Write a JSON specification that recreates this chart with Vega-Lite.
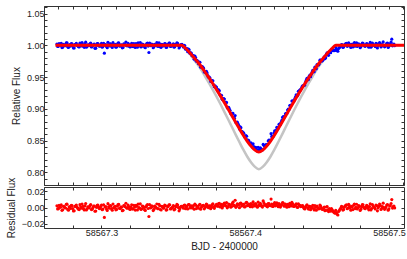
{
"$schema": "https://vega.github.io/schema/vega-lite/v6.json",
"padding": {"left": 5, "top": 5, "right": 3, "bottom": 0},
"spacing": 2,
"bounds": "flush",
"config": {
 "view": {"stroke": "#333", "strokeWidth": 1},
 "axis": {"labelFont": "Liberation Sans", "titleFont": "Liberation Sans", "labelFontSize": 9, "titleFontSize": 10, "titleFontWeight": "normal", "labelColor": "#222", "titleColor": "#222", "grid": false, "domain": false, "tickColor": "#333", "tickSize": -3, "tickWidth": 1, "minExtent": 0, "maxExtent": 200, "offset": 0}
},
"datasets": {
 "obs": [
{"t":58567.269,"f":1.0021,"r":0.0021},{"t":58567.270,"f":0.9985,"r":-0.0015},{"t":58567.271,"f":1.0004,"r":0.0004},{"t":58567.272,"f":1.0032,"r":0.0032},{"t":58567.273,"f":0.9972,"r":-0.0028},{"t":58567.274,"f":1.0010,"r":0.0010},{"t":58567.275,"f":0.9994,"r":-0.0006},{"t":58567.276,"f":1.0041,"r":0.0041},{"t":58567.277,"f":0.9967,"r":-0.0033},{"t":58567.278,"f":1.0009,"r":0.0009},
{"t":58567.279,"f":1.0026,"r":0.0026},{"t":58567.280,"f":0.9988,"r":-0.0012},{"t":58567.281,"f":0.9960,"r":-0.0040},{"t":58567.282,"f":1.0018,"r":0.0018},{"t":58567.283,"f":1.0002,"r":0.0002},{"t":58567.284,"f":0.9978,"r":-0.0022},{"t":58567.285,"f":1.0035,"r":0.0035},{"t":58567.286,"f":0.9991,"r":-0.0009},{"t":58567.287,"f":1.0014,"r":0.0014},{"t":58567.288,"f":0.9969,"r":-0.0031},
{"t":58567.289,"f":1.0050,"r":0.0050},{"t":58567.290,"f":0.9983,"r":-0.0017},{"t":58567.291,"f":1.0006,"r":0.0006},{"t":58567.292,"f":1.0023,"r":0.0023},{"t":58567.293,"f":0.9974,"r":-0.0026},{"t":58567.294,"f":0.9997,"r":-0.0003},{"t":58567.295,"f":1.0019,"r":0.0019},{"t":58567.296,"f":0.9956,"r":-0.0044},{"t":58567.297,"f":1.0028,"r":0.0028},{"t":58567.298,"f":1.0001,"r":0.0001},
{"t":58567.299,"f":0.9990,"r":-0.0010},{"t":58567.300,"f":1.0030,"r":0.0030},{"t":58567.301,"f":0.9980,"r":-0.0020},{"t":58567.302,"f":0.9877,"r":-0.0123},{"t":58567.303,"f":1.0012,"r":0.0012},{"t":58567.304,"f":0.9964,"r":-0.0036},{"t":58567.305,"f":1.0007,"r":0.0007},{"t":58567.306,"f":1.0025,"r":0.0025},{"t":58567.307,"f":0.9986,"r":-0.0014},{"t":58567.308,"f":1.0042,"r":0.0042},
{"t":58567.309,"f":0.9995,"r":-0.0005},{"t":58567.310,"f":0.9971,"r":-0.0029},{"t":58567.311,"f":1.0016,"r":0.0016},{"t":58567.312,"f":1.0038,"r":0.0038},{"t":58567.313,"f":0.9989,"r":-0.0011},{"t":58567.314,"f":1.0003,"r":0.0003},{"t":58567.315,"f":0.9966,"r":-0.0034},{"t":58567.316,"f":1.0020,"r":0.0020},{"t":58567.317,"f":1.0053,"r":0.0053},{"t":58567.318,"f":0.9992,"r":-0.0008},
{"t":58567.319,"f":1.0011,"r":0.0011},{"t":58567.320,"f":0.9976,"r":-0.0024},{"t":58567.321,"f":1.0033,"r":0.0033},{"t":58567.322,"f":0.9981,"r":-0.0019},{"t":58567.323,"f":1.0005,"r":0.0005},{"t":58567.324,"f":1.0027,"r":0.0027},{"t":58567.325,"f":0.9970,"r":-0.0030},{"t":58567.326,"f":0.9998,"r":-0.0002},{"t":58567.327,"f":1.0045,"r":0.0045},{"t":58567.328,"f":0.9984,"r":-0.0016},
{"t":58567.329,"f":1.0013,"r":0.0013},{"t":58567.330,"f":0.9973,"r":-0.0027},{"t":58567.331,"f":1.0008,"r":0.0008},{"t":58567.332,"f":1.0036,"r":0.0036},{"t":58567.333,"f":0.9888,"r":-0.0112},{"t":58567.334,"f":0.9996,"r":-0.0004},{"t":58567.335,"f":1.0022,"r":0.0022},{"t":58567.336,"f":0.9962,"r":-0.0038},{"t":58567.337,"f":1.0017,"r":0.0017},{"t":58567.338,"f":1.0000,"r":0.0000},
{"t":58567.339,"f":0.9987,"r":-0.0013},{"t":58567.340,"f":1.0040,"r":0.0040},{"t":58567.341,"f":0.9975,"r":-0.0025},{"t":58567.342,"f":1.0015,"r":0.0015},{"t":58567.343,"f":0.9993,"r":-0.0007},{"t":58567.344,"f":1.0029,"r":0.0029},{"t":58567.345,"f":0.9968,"r":-0.0032},{"t":58567.346,"f":1.0009,"r":0.0009},{"t":58567.347,"f":1.0034,"r":0.0034},{"t":58567.348,"f":0.9982,"r":-0.0018},
{"t":58567.349,"f":0.9999,"r":-0.0001},{"t":58567.350,"f":1.0024,"r":0.0024},{"t":58567.351,"f":0.9979,"r":-0.0021},{"t":58567.352,"f":1.0010,"r":0.0010},{"t":58567.353,"f":1.0031,"r":0.0031},{"t":58567.354,"f":0.9959,"r":-0.0041},{"t":58567.355,"f":1.0006,"r":0.0006},
{"t":58567.356,"f":1.0015,"r":0.0015},{"t":58567.357,"f":0.9973,"r":-0.0008},{"t":58567.358,"f":0.9991,"r":0.0029},{"t":58567.359,"f":0.9946,"r":0.0004},{"t":58567.360,"f":0.9899,"r":-0.0019},{"t":58567.361,"f":0.9931,"r":0.0037},{"t":58567.362,"f":0.9881,"r":0.0012},{"t":58567.363,"f":0.9837,"r":-0.0005},{"t":58567.364,"f":0.9840,"r":0.0024},{"t":58567.365,"f":0.9831,"r":0.0041},
{"t":58567.366,"f":0.9750,"r":-0.0013},{"t":58567.367,"f":0.9745,"r":0.0009},{"t":58567.368,"f":0.9737,"r":0.0030},{"t":58567.369,"f":0.9656,"r":-0.0022},{"t":58567.370,"f":0.9665,"r":0.0018},{"t":58567.371,"f":0.9640,"r":0.0026},{"t":58567.372,"f":0.9579,"r":-0.0003},{"t":58567.373,"f":0.9592,"r":0.0044},{"t":58567.374,"f":0.9522,"r":0.0007},{"t":58567.375,"f":0.9500,"r":0.0019},
{"t":58567.376,"f":0.9431,"r":-0.0016},{"t":58567.377,"f":0.9445,"r":0.0033},{"t":58567.378,"f":0.9379,"r":0.0002},{"t":58567.379,"f":0.9362,"r":0.0021},{"t":58567.380,"f":0.9343,"r":0.0038},{"t":58567.381,"f":0.9283,"r":0.0014},{"t":58567.382,"f":0.9283,"r":0.0052},{"t":58567.383,"f":0.9214,"r":0.0020},{"t":58567.384,"f":0.9150,"r":-0.0006},{"t":58567.385,"f":0.9161,"r":0.0043},
{"t":58567.386,"f":0.9108,"r":0.0029},{"t":58567.387,"f":0.9101,"r":0.0061},{"t":58567.388,"f":0.9012,"r":0.0011},{"t":58567.389,"f":0.8996,"r":0.0035},{"t":58567.390,"f":0.8926,"r":0.0004},{"t":58567.391,"f":0.8930,"r":0.0048},{"t":58567.392,"f":0.8866,"r":0.0023},{"t":58567.393,"f":0.8893,"r":0.0090},{"t":58567.394,"f":0.8781,"r":0.0017},{"t":58567.395,"f":0.8764,"r":0.0039},
{"t":58567.396,"f":0.8684,"r":-0.0002},{"t":58567.397,"f":0.8703,"r":0.0055},{"t":58567.398,"f":0.8636,"r":0.0026},{"t":58567.399,"f":0.8614,"r":0.0040},{"t":58567.400,"f":0.8549,"r":0.0010},{"t":58567.401,"f":0.8568,"r":0.0064},{"t":58567.402,"f":0.8504,"r":0.0031},{"t":58567.403,"f":0.8466,"r":0.0022},{"t":58567.404,"f":0.8465,"r":0.0050},{"t":58567.405,"f":0.8400,"r":0.0008},
{"t":58567.406,"f":0.8406,"r":0.0037},{"t":58567.407,"f":0.8394,"r":0.0046},{"t":58567.408,"f":0.8356,"r":0.0019},{"t":58567.409,"f":0.8394,"r":0.0068},{"t":58567.410,"f":0.8350,"r":0.0024},{"t":58567.411,"f":0.8370,"r":0.0033},{"t":58567.412,"f":0.8353,"r":0.0005},{"t":58567.413,"f":0.8426,"r":0.0057},{"t":58567.414,"f":0.8422,"r":0.0030},{"t":58567.415,"f":0.8431,"r":0.0016},
{"t":58567.416,"f":0.8493,"r":0.0049},{"t":58567.417,"f":0.8501,"r":0.0028},{"t":58567.418,"f":0.8609,"r":0.0105},{"t":58567.419,"f":0.8551,"r":0.0012},{"t":58567.420,"f":0.8618,"r":0.0044},{"t":58567.421,"f":0.8631,"r":0.0021},{"t":58567.422,"f":0.8707,"r":0.0059},{"t":58567.423,"f":0.8695,"r":0.0009},{"t":58567.424,"f":0.8761,"r":0.0036},{"t":58567.425,"f":0.8789,"r":0.0025},
{"t":58567.426,"f":0.8865,"r":0.0062},{"t":58567.427,"f":0.8861,"r":0.0018},{"t":58567.428,"f":0.8923,"r":0.0041},{"t":58567.429,"f":0.8925,"r":0.0003},{"t":58567.430,"f":0.8995,"r":0.0034},{"t":58567.431,"f":0.9052,"r":0.0051},{"t":58567.432,"f":0.9060,"r":0.0020},{"t":58567.433,"f":0.9126,"r":0.0047},{"t":58567.434,"f":0.9131,"r":0.0013},{"t":58567.435,"f":0.9188,"r":0.0032},
{"t":58567.436,"f":0.9200,"r":0.0006},{"t":58567.437,"f":0.9276,"r":0.0045},{"t":58567.438,"f":0.9296,"r":0.0027},{"t":58567.439,"f":0.9320,"r":0.0015},{"t":58567.440,"f":0.9364,"r":0.0023},{"t":58567.441,"f":0.9366,"r":-0.0011},{"t":58567.442,"f":0.9420,"r":0.0008},{"t":58567.443,"f":0.9481,"r":0.0034},{"t":58567.444,"f":0.9461,"r":-0.0020},{"t":58567.445,"f":0.9530,"r":0.0015},
{"t":58567.446,"f":0.9544,"r":-0.0004},{"t":58567.447,"f":0.9608,"r":0.0026},{"t":58567.448,"f":0.9584,"r":-0.0030},{"t":58567.449,"f":0.9649,"r":0.0002},{"t":58567.450,"f":0.9697,"r":0.0019},{"t":58567.451,"f":0.9690,"r":-0.0017},{"t":58567.452,"f":0.9767,"r":0.0031},{"t":58567.453,"f":0.9754,"r":-0.0009},{"t":58567.454,"f":0.9766,"r":-0.0024},{"t":58567.455,"f":0.9821,"r":0.0005},
{"t":58567.456,"f":0.9806,"r":-0.0036},{"t":58567.457,"f":0.9881,"r":0.0012},{"t":58567.458,"f":0.9843,"r":-0.0051},{"t":58567.459,"f":0.9890,"r":-0.0028},{"t":58567.460,"f":0.9930,"r":-0.0012},{"t":58567.461,"f":0.9920,"r":-0.0042},{"t":58567.462,"f":0.9918,"r":-0.0063},{"t":58567.463,"f":0.9965,"r":-0.0035},
{"t":58567.464,"f":0.9916,"r":-0.0084},{"t":58567.465,"f":0.9950,"r":-0.0050},{"t":58567.466,"f":0.9979,"r":-0.0021},{"t":58567.467,"f":1.0013,"r":0.0013},{"t":58567.468,"f":0.9968,"r":-0.0032},{"t":58567.469,"f":1.0006,"r":0.0006},{"t":58567.470,"f":1.0028,"r":0.0028},{"t":58567.471,"f":0.9985,"r":-0.0015},{"t":58567.472,"f":1.0039,"r":0.0039},{"t":58567.473,"f":0.9993,"r":-0.0007},
{"t":58567.474,"f":1.0016,"r":0.0016},{"t":58567.475,"f":0.9974,"r":-0.0026},{"t":58567.476,"f":1.0042,"r":0.0042},{"t":58567.477,"f":1.0001,"r":0.0001},{"t":58567.478,"f":0.9982,"r":-0.0018},{"t":58567.479,"f":1.0025,"r":0.0025},{"t":58567.480,"f":0.9963,"r":-0.0037},{"t":58567.481,"f":1.0010,"r":0.0010},{"t":58567.482,"f":1.0033,"r":0.0033},{"t":58567.483,"f":0.9991,"r":-0.0009},
{"t":58567.484,"f":1.0004,"r":0.0004},{"t":58567.485,"f":1.0020,"r":0.0020},{"t":58567.486,"f":0.9971,"r":-0.0029},{"t":58567.487,"f":1.0046,"r":0.0046},{"t":58567.488,"f":0.9988,"r":-0.0012},{"t":58567.489,"f":1.0018,"r":0.0018},{"t":58567.490,"f":0.9997,"r":-0.0003},{"t":58567.491,"f":1.0030,"r":0.0030},{"t":58567.492,"f":0.9959,"r":-0.0041},{"t":58567.493,"f":1.0014,"r":0.0014},
{"t":58567.494,"f":1.0027,"r":0.0027},{"t":58567.495,"f":0.9990,"r":-0.0010},{"t":58567.496,"f":1.0054,"r":0.0054},{"t":58567.497,"f":0.9977,"r":-0.0023},{"t":58567.498,"f":1.0008,"r":0.0008},{"t":58567.499,"f":1.0036,"r":0.0036},{"t":58567.500,"f":0.9984,"r":-0.0016},{"t":58567.501,"f":1.0022,"r":0.0022},{"t":58567.502,"f":1.0098,"r":0.0098},{"t":58567.503,"f":1.0011,"r":0.0011},
{"t":58567.504,"f":0.9995,"r":-0.0005},
{"t":58567.2695,"f":0.9982,"r":-0.0018},{"t":58567.2705,"f":1.0027,"r":0.0027},{"t":58567.2715,"f":1.0003,"r":0.0003},{"t":58567.2725,"f":0.9965,"r":-0.0035},{"t":58567.2735,"f":1.0016,"r":0.0016},{"t":58567.2745,"f":0.9998,"r":-0.0002},{"t":58567.2755,"f":1.0039,"r":0.0039},{"t":58567.2765,"f":0.9977,"r":-0.0023},{"t":58567.2775,"f":1.0008,"r":0.0008},{"t":58567.2785,"f":0.9989,"r":-0.0011},
{"t":58567.2795,"f":1.0024,"r":0.0024},{"t":58567.2805,"f":0.9958,"r":-0.0042},{"t":58567.2815,"f":1.0013,"r":0.0013},{"t":58567.2825,"f":1.0031,"r":0.0031},{"t":58567.2835,"f":0.9993,"r":-0.0007},{"t":58567.2845,"f":0.9974,"r":-0.0026},{"t":58567.2855,"f":1.0005,"r":0.0005},{"t":58567.2865,"f":1.0044,"r":0.0044},{"t":58567.2875,"f":0.9985,"r":-0.0015},{"t":58567.2885,"f":1.0020,"r":0.0020},
{"t":58567.2895,"f":0.9970,"r":-0.0030},{"t":58567.2905,"f":1.0009,"r":0.0009},{"t":58567.2915,"f":0.9996,"r":-0.0004},{"t":58567.2925,"f":1.0036,"r":0.0036},{"t":58567.2935,"f":0.9979,"r":-0.0021},{"t":58567.2945,"f":1.0017,"r":0.0017},{"t":58567.2955,"f":0.9953,"r":-0.0047},{"t":58567.2965,"f":1.0002,"r":0.0002},{"t":58567.2975,"f":1.0029,"r":0.0029},{"t":58567.2985,"f":0.9987,"r":-0.0013},
{"t":58567.2995,"f":1.0011,"r":0.0011},{"t":58567.3005,"f":0.9972,"r":-0.0028},{"t":58567.3015,"f":1.0033,"r":0.0033},{"t":58567.3025,"f":1.0006,"r":0.0006},{"t":58567.3035,"f":0.9981,"r":-0.0019},{"t":58567.3045,"f":1.0048,"r":0.0048},{"t":58567.3055,"f":0.9991,"r":-0.0009},{"t":58567.3065,"f":1.0022,"r":0.0022},{"t":58567.3075,"f":0.9966,"r":-0.0034},{"t":58567.3085,"f":1.0000,"r":0.0000},
{"t":58567.3095,"f":1.0015,"r":0.0015},{"t":58567.3105,"f":0.9976,"r":-0.0024},{"t":58567.3115,"f":1.0037,"r":0.0037},{"t":58567.3125,"f":0.9990,"r":-0.0010},{"t":58567.3135,"f":1.0007,"r":0.0007},{"t":58567.3145,"f":0.9961,"r":-0.0039},{"t":58567.3155,"f":1.0025,"r":0.0025},{"t":58567.3165,"f":1.0010,"r":0.0010},{"t":58567.3175,"f":0.9994,"r":-0.0006},{"t":58567.3185,"f":1.0030,"r":0.0030},
{"t":58567.3195,"f":0.9980,"r":-0.0020},{"t":58567.3205,"f":1.0004,"r":0.0004},{"t":58567.3215,"f":0.9983,"r":-0.0017},{"t":58567.3225,"f":1.0028,"r":0.0028},{"t":58567.3235,"f":0.9968,"r":-0.0032},{"t":58567.3245,"f":1.0014,"r":0.0014},{"t":58567.3255,"f":1.0041,"r":0.0041},{"t":58567.3265,"f":0.9992,"r":-0.0008},{"t":58567.3275,"f":0.9975,"r":-0.0025},{"t":58567.3285,"f":1.0019,"r":0.0019},
{"t":58567.3295,"f":1.0001,"r":0.0001},{"t":58567.3305,"f":0.9964,"r":-0.0036},{"t":58567.3315,"f":1.0026,"r":0.0026},{"t":58567.3325,"f":0.9988,"r":-0.0012},{"t":58567.3335,"f":1.0035,"r":0.0035},{"t":58567.3345,"f":0.9997,"r":-0.0003},{"t":58567.3355,"f":1.0012,"r":0.0012},{"t":58567.3365,"f":0.9978,"r":-0.0022},{"t":58567.3375,"f":1.0006,"r":0.0006},{"t":58567.3385,"f":1.0043,"r":0.0043},
{"t":58567.3395,"f":0.9984,"r":-0.0016},{"t":58567.3405,"f":1.0021,"r":0.0021},{"t":58567.3415,"f":0.9969,"r":-0.0031},{"t":58567.3425,"f":1.0008,"r":0.0008},{"t":58567.3435,"f":0.9995,"r":-0.0005},{"t":58567.3445,"f":1.0023,"r":0.0023},{"t":58567.3455,"f":0.9973,"r":-0.0027},{"t":58567.3465,"f":1.0018,"r":0.0018},{"t":58567.3475,"f":1.0034,"r":0.0034},{"t":58567.3485,"f":0.9986,"r":-0.0014},
{"t":58567.3495,"f":1.0002,"r":0.0002},{"t":58567.3505,"f":0.9971,"r":-0.0029},{"t":58567.3515,"f":1.0016,"r":0.0016},{"t":58567.3525,"f":1.0038,"r":0.0038},{"t":58567.3535,"f":0.9999,"r":-0.0001},{"t":58567.3545,"f":0.9980,"r":-0.0020},{"t":58567.3555,"f":1.0013,"r":0.0013},
{"t":58567.3565,"f":0.9997,"r":0.0006},{"t":58567.3575,"f":1.0000,"r":0.0028},{"t":58567.3585,"f":0.9939,"r":-0.0014},{"t":58567.3595,"f":0.9949,"r":0.0019},{"t":58567.3605,"f":0.9942,"r":0.0036},{"t":58567.3615,"f":0.9877,"r":-0.0005},{"t":58567.3625,"f":0.9877,"r":0.0022},{"t":58567.3635,"f":0.9838,"r":0.0009},{"t":58567.3645,"f":0.9782,"r":-0.0021},{"t":58567.3655,"f":0.9807,"r":0.0031},
{"t":58567.3665,"f":0.9764,"r":0.0014},{"t":58567.3675,"f":0.9712,"r":-0.0009},{"t":58567.3685,"f":0.9733,"r":0.0040},{"t":58567.3695,"f":0.9666,"r":0.0003},{"t":58567.3705,"f":0.9656,"r":0.0025},{"t":58567.3715,"f":0.9581,"r":-0.0017},{"t":58567.3725,"f":0.9576,"r":0.0011},{"t":58567.3735,"f":0.9566,"r":0.0034},{"t":58567.3745,"f":0.9497,"r":-0.0002},{"t":58567.3755,"f":0.9484,"r":0.0020},
{"t":58567.3765,"f":0.9437,"r":0.0007},{"t":58567.3775,"f":0.9441,"r":0.0046},{"t":58567.3785,"f":0.9349,"r":-0.0010},{"t":58567.3795,"f":0.9341,"r":0.0018},
{"t":58567.3805,"f":0.9313,"r":0.0026},{"t":58567.3815,"f":0.9299,"r":0.0049},{"t":58567.3825,"f":0.9220,"r":0.0007},{"t":58567.3835,"f":0.9213,"r":0.0038},{"t":58567.3845,"f":0.9152,"r":0.0015},{"t":58567.3855,"f":0.9154,"r":0.0056},{"t":58567.3865,"f":0.9080,"r":0.0021},{"t":58567.3875,"f":0.9016,"r":-0.0004},{"t":58567.3885,"f":0.9023,"r":0.0042},{"t":58567.3895,"f":0.8972,"r":0.0030},
{"t":58567.3905,"f":0.8914,"r":0.0012},{"t":58567.3915,"f":0.8928,"r":0.0066},{"t":58567.3925,"f":0.8850,"r":0.0027},{"t":58567.3935,"f":0.8785,"r":0.0002},{"t":58567.3945,"f":0.8790,"r":0.0045},{"t":58567.3955,"f":0.8739,"r":0.0033},{"t":58567.3965,"f":0.8718,"r":0.0051},{"t":58567.3975,"f":0.8647,"r":0.0018},{"t":58567.3985,"f":0.8631,"r":0.0039},{"t":58567.3995,"f":0.8562,"r":0.0006},
{"t":58567.4005,"f":0.8580,"r":0.0058},{"t":58567.4015,"f":0.8511,"r":0.0024},{"t":58567.4025,"f":0.8499,"r":0.0041},{"t":58567.4035,"f":0.8440,"r":0.0010},{"t":58567.4045,"f":0.8439,"r":0.0036},{"t":58567.4055,"f":0.8449,"r":0.0069},{"t":58567.4065,"f":0.8378,"r":0.0020},{"t":58567.4075,"f":0.8390,"r":0.0047},{"t":58567.4085,"f":0.8335,"r":0.0004},{"t":58567.4095,"f":0.8352,"r":0.0032},
{"t":58567.4105,"f":0.8384,"r":0.0053},{"t":58567.4115,"f":0.8360,"r":0.0017},{"t":58567.4125,"f":0.8440,"r":0.0082},{"t":58567.4135,"f":0.8409,"r":0.0029},{"t":58567.4145,"f":0.8438,"r":0.0035},{"t":58567.4155,"f":0.8438,"r":0.0008},{"t":58567.4165,"f":0.8508,"r":0.0050},{"t":58567.4175,"f":0.8509,"r":0.0022},{"t":58567.4185,"f":0.8565,"r":0.0043},{"t":58567.4195,"f":0.8570,"r":0.0014},
{"t":58567.4205,"f":0.8652,"r":0.0060},{"t":58567.4215,"f":0.8660,"r":0.0031},{"t":58567.4225,"f":0.8692,"r":0.0025},{"t":58567.4235,"f":0.8754,"r":0.0048},{"t":58567.4245,"f":0.8750,"r":0.0005},{"t":58567.4255,"f":0.8820,"r":0.0037},{"t":58567.4265,"f":0.8877,"r":0.0054},{"t":58567.4275,"f":0.8881,"r":0.0019},{"t":58567.4285,"f":0.8930,"r":0.0028},{"t":58567.4295,"f":0.8982,"r":0.0040},
{"t":58567.4305,"f":0.8990,"r":0.0009},{"t":58567.4315,"f":0.9054,"r":0.0034},{"t":58567.4325,"f":0.9122,"r":0.0063},{"t":58567.4335,"f":0.9114,"r":0.0016},{"t":58567.4345,"f":0.9160,"r":0.0023},{"t":58567.4355,"f":0.9221,"r":0.0046},{"t":58567.4365,"f":0.9214,"r":0.0001},{"t":58567.4375,"f":0.9280,"r":0.0030},{"t":58567.4385,"f":0.9298,"r":0.0011},{"t":58567.4395,"f":0.9345,"r":0.0022},
{"t":58567.4405,"f":0.9363,"r":0.0004},{"t":58567.4415,"f":0.9377,"r":-0.0018},{"t":58567.4425,"f":0.9451,"r":0.0021},{"t":58567.4435,"f":0.9458,"r":-0.0006},{"t":58567.4445,"f":0.9512,"r":0.0013},{"t":58567.4455,"f":0.9505,"r":-0.0027},{"t":58567.4465,"f":0.9574,"r":0.0009},{"t":58567.4475,"f":0.9586,"r":-0.0012},{"t":58567.4485,"f":0.9656,"r":0.0025},{"t":58567.4495,"f":0.9630,"r":-0.0033},
{"t":58567.4505,"f":0.9693,"r":0.0000},{"t":58567.4515,"f":0.9706,"r":-0.0015},{"t":58567.4525,"f":0.9767,"r":0.0017},{"t":58567.4535,"f":0.9754,"r":-0.0022},{"t":58567.4545,"f":0.9795,"r":-0.0008},{"t":58567.4555,"f":0.9790,"r":-0.0039},{"t":58567.4565,"f":0.9861,"r":0.0006},{"t":58567.4575,"f":0.9853,"r":-0.0029},{"t":58567.4585,"f":0.9892,"r":-0.0014},{"t":58567.4595,"f":0.9884,"r":-0.0046},
{"t":58567.4605,"f":0.9923,"r":-0.0030},{"t":58567.4615,"f":0.9917,"r":-0.0055},{"t":58567.4625,"f":0.9920,"r":-0.0071},
{"t":58567.4635,"f":0.9938,"r":-0.0062},{"t":58567.4645,"f":0.9907,"r":-0.0093},{"t":58567.4655,"f":0.9962,"r":-0.0038},{"t":58567.4665,"f":0.9989,"r":-0.0011},{"t":58567.4675,"f":1.0009,"r":0.0009},{"t":58567.4685,"f":0.9976,"r":-0.0024},{"t":58567.4695,"f":1.0017,"r":0.0017},{"t":58567.4705,"f":1.0032,"r":0.0032},{"t":58567.4715,"f":0.9994,"r":-0.0006},{"t":58567.4725,"f":1.0021,"r":0.0021},
{"t":58567.4735,"f":0.9966,"r":-0.0034},{"t":58567.4745,"f":1.0005,"r":0.0005},{"t":58567.4755,"f":1.0029,"r":0.0029},{"t":58567.4765,"f":0.9987,"r":-0.0013},{"t":58567.4775,"f":1.0040,"r":0.0040},{"t":58567.4785,"f":0.9998,"r":-0.0002},{"t":58567.4795,"f":1.0014,"r":0.0014},{"t":58567.4805,"f":0.9979,"r":-0.0021},{"t":58567.4815,"f":1.0035,"r":0.0035},{"t":58567.4825,"f":1.0003,"r":0.0003},
{"t":58567.4835,"f":0.9984,"r":-0.0016},{"t":58567.4845,"f":1.0026,"r":0.0026},{"t":58567.4855,"f":0.9992,"r":-0.0008},{"t":58567.4865,"f":1.0011,"r":0.0011},{"t":58567.4875,"f":0.9970,"r":-0.0030},{"t":58567.4885,"f":1.0037,"r":0.0037},{"t":58567.4895,"f":1.0006,"r":0.0006},{"t":58567.4905,"f":0.9981,"r":-0.0019},{"t":58567.4915,"f":1.0023,"r":0.0023},{"t":58567.4925,"f":0.9996,"r":-0.0004},
{"t":58567.4935,"f":1.0044,"r":0.0044},{"t":58567.4945,"f":0.9975,"r":-0.0025},{"t":58567.4955,"f":1.0012,"r":0.0012},{"t":58567.4965,"f":1.0000,"r":0.0000},{"t":58567.4975,"f":0.9989,"r":-0.0011},{"t":58567.4985,"f":1.0031,"r":0.0031},{"t":58567.4995,"f":0.9967,"r":-0.0033},{"t":58567.5005,"f":1.0020,"r":0.0020},{"t":58567.5015,"f":1.0050,"r":0.0050},{"t":58567.5025,"f":0.9993,"r":-0.0007},
{"t":58567.5035,"f":1.0019,"r":0.0019}
 ],
 "model": [
{"t":58567.268,"red":1.0,"gray":1.0},{"t":58567.356,"red":1.0,"gray":1.0},{"t":58567.358675,"red":0.9950,"gray":0.9942},{"t":58567.36135,"red":0.9886,"gray":0.9867},{"t":58567.364025,"red":0.9815,"gray":0.9786},{"t":58567.3667,"red":0.9745,"gray":0.9704},{"t":58567.369375,"red":0.9667,"gray":0.9614},{"t":58567.37205,"red":0.9580,"gray":0.9513},{"t":58567.374725,"red":0.9491,"gray":0.9409},{"t":58567.3774,"red":0.9399,"gray":0.9302},{"t":58567.380075,"red":0.9303,"gray":0.9191},{"t":58567.38275,"red":0.9204,"gray":0.9076},{"t":58567.385425,"red":0.9101,"gray":0.8957},{"t":58567.3881,"red":0.8997,"gray":0.8836},{"t":58567.390775,"red":0.8891,"gray":0.8713},{"t":58567.39345,"red":0.8785,"gray":0.8590},{"t":58567.396125,"red":0.8681,"gray":0.8469},{"t":58567.3988,"red":0.8580,"gray":0.8352},{"t":58567.401475,"red":0.8488,"gray":0.8245},{"t":58567.40415,"red":0.8411,"gray":0.8155},{"t":58567.406825,"red":0.8350,"gray":0.8085},{"t":58567.4095,"red":0.8320,"gray":0.8050},
{"t":58567.412175,"red":0.8350,"gray":0.8085},{"t":58567.41485,"red":0.8411,"gray":0.8155},{"t":58567.417525,"red":0.8488,"gray":0.8245},{"t":58567.4202,"red":0.8580,"gray":0.8352},{"t":58567.422875,"red":0.8681,"gray":0.8469},{"t":58567.42555,"red":0.8785,"gray":0.8590},{"t":58567.428225,"red":0.8891,"gray":0.8713},{"t":58567.4309,"red":0.8997,"gray":0.8836},{"t":58567.433575,"red":0.9101,"gray":0.8957},{"t":58567.43625,"red":0.9204,"gray":0.9076},{"t":58567.438925,"red":0.9303,"gray":0.9191},{"t":58567.4416,"red":0.9399,"gray":0.9302},{"t":58567.444275,"red":0.9491,"gray":0.9409},{"t":58567.44695,"red":0.9580,"gray":0.9513},{"t":58567.449625,"red":0.9667,"gray":0.9614},{"t":58567.4523,"red":0.9745,"gray":0.9704},{"t":58567.454975,"red":0.9815,"gray":0.9786},{"t":58567.45765,"red":0.9886,"gray":0.9867},{"t":58567.460325,"red":0.9950,"gray":0.9942},{"t":58567.463,"red":1.0,"gray":1.0},{"t":58567.5105,"red":1.0,"gray":1.0}
 ]
},
"vconcat": [
 {
  "width": 360, "height": 179,
  "layer": [
   {"data": {"name": "model"}, "mark": {"type": "line", "color": "#c4c4c4", "strokeWidth": 2.5, "interpolate": "monotone"},
    "encoding": {
     "x": {"field": "t", "type": "quantitative", "scale": {"domain": [58567.26, 58567.5105], "nice": false, "zero": false},
       "axis": {"orient": "bottom", "title": null, "labels": false, "values": [58567.26,58567.27,58567.28,58567.29,58567.30,58567.31,58567.32,58567.33,58567.34,58567.35,58567.36,58567.37,58567.38,58567.39,58567.40,58567.41,58567.42,58567.43,58567.44,58567.45,58567.46,58567.47,58567.48,58567.49,58567.50,58567.51]}},
     "y": {"field": "gray", "type": "quantitative", "scale": {"domain": [0.78, 1.062], "nice": false, "zero": false},
       "axis": {"orient": "left", "title": "Relative Flux", "titlePadding": 5, "labelPadding": 3, "values": [0.78,0.79,0.80,0.81,0.82,0.83,0.84,0.85,0.86,0.87,0.88,0.89,0.90,0.91,0.92,0.93,0.94,0.95,0.96,0.97,0.98,0.99,1.00,1.01,1.02,1.03,1.04,1.05,1.06],
         "labelExpr": "abs(datum.value*20 - round(datum.value*20)) < 0.01 ? format(datum.value, '.2f') : ''"}}
    }},
   {"data": {"name": "obs"}, "mark": {"type": "point", "filled": true, "color": "#0000ff", "size": 10, "opacity": 1},
    "encoding": {
     "x": {"field": "t", "type": "quantitative", "scale": {"domain": [58567.26, 58567.5105], "nice": false, "zero": false},
       "axis": {"orient": "top", "title": null, "labels": false, "values": [58567.26,58567.27,58567.28,58567.29,58567.30,58567.31,58567.32,58567.33,58567.34,58567.35,58567.36,58567.37,58567.38,58567.39,58567.40,58567.41,58567.42,58567.43,58567.44,58567.45,58567.46,58567.47,58567.48,58567.49,58567.50,58567.51]}},
     "y": {"field": "f", "type": "quantitative", "scale": {"domain": [0.78, 1.062], "nice": false, "zero": false},
       "axis": {"orient": "right", "title": null, "labels": false, "values": [0.78,0.79,0.80,0.81,0.82,0.83,0.84,0.85,0.86,0.87,0.88,0.89,0.90,0.91,0.92,0.93,0.94,0.95,0.96,0.97,0.98,0.99,1.00,1.01,1.02,1.03,1.04,1.05,1.06]}}
    }},
   {"data": {"name": "model"}, "mark": {"type": "line", "color": "#ff0000", "strokeWidth": 3, "interpolate": "monotone"},
    "encoding": {
     "x": {"field": "t", "type": "quantitative", "scale": {"domain": [58567.26, 58567.5105], "nice": false, "zero": false}, "axis": null},
     "y": {"field": "red", "type": "quantitative", "scale": {"domain": [0.78, 1.062], "nice": false, "zero": false}, "axis": null}
    }}
  ],
  "resolve": {"axis": {"x": "independent", "y": "independent"}}
 },
 {
  "width": 360, "height": 41,
  "layer": [
   {"data": {"name": "obs"}, "mark": {"type": "point", "filled": true, "color": "#ff0000", "size": 10, "opacity": 1},
    "encoding": {
     "x": {"field": "t", "type": "quantitative", "scale": {"domain": [58567.26, 58567.5105], "nice": false, "zero": false},
       "axis": {"orient": "bottom", "title": "BJD - 2400000", "titlePadding": 4, "labelPadding": 3, "values": [58567.26,58567.28,58567.30,58567.32,58567.34,58567.36,58567.38,58567.40,58567.42,58567.44,58567.46,58567.48,58567.50],
         "labelExpr": "abs(datum.value*10 - round(datum.value*10)) < 0.01 ? format(datum.value, '.1f') : ''"}},
     "y": {"field": "r", "type": "quantitative", "scale": {"domain": [-0.0255, 0.0255], "nice": false, "zero": false},
       "axis": {"orient": "left", "title": "Residual Flux", "titlePadding": 5, "labelPadding": 3, "values": [-0.02,-0.01,0,0.01,0.02],
         "labelExpr": "abs(datum.value*50 - round(datum.value*50)) < 0.01 ? format(datum.value, '.2f') : ''"}}
    }},
   {"mark": {"type": "rule", "color": "#909090", "strokeWidth": 1.5},
    "encoding": {
     "x": {"datum": 58567.26, "type": "quantitative", "scale": {"domain": [58567.26, 58567.5105], "nice": false, "zero": false},
       "axis": {"orient": "top", "title": null, "labels": false, "values": [58567.26,58567.28,58567.30,58567.32,58567.34,58567.36,58567.38,58567.40,58567.42,58567.44,58567.46,58567.48,58567.50]}},
     "x2": {"datum": 58567.5105},
     "y": {"datum": 0, "type": "quantitative", "scale": {"domain": [-0.0255, 0.0255], "nice": false, "zero": false},
       "axis": {"orient": "right", "title": null, "labels": false, "values": [-0.02,-0.01,0,0.01,0.02]}}
    }}
  ],
  "resolve": {"axis": {"x": "independent", "y": "independent"}}
 }
]
}
